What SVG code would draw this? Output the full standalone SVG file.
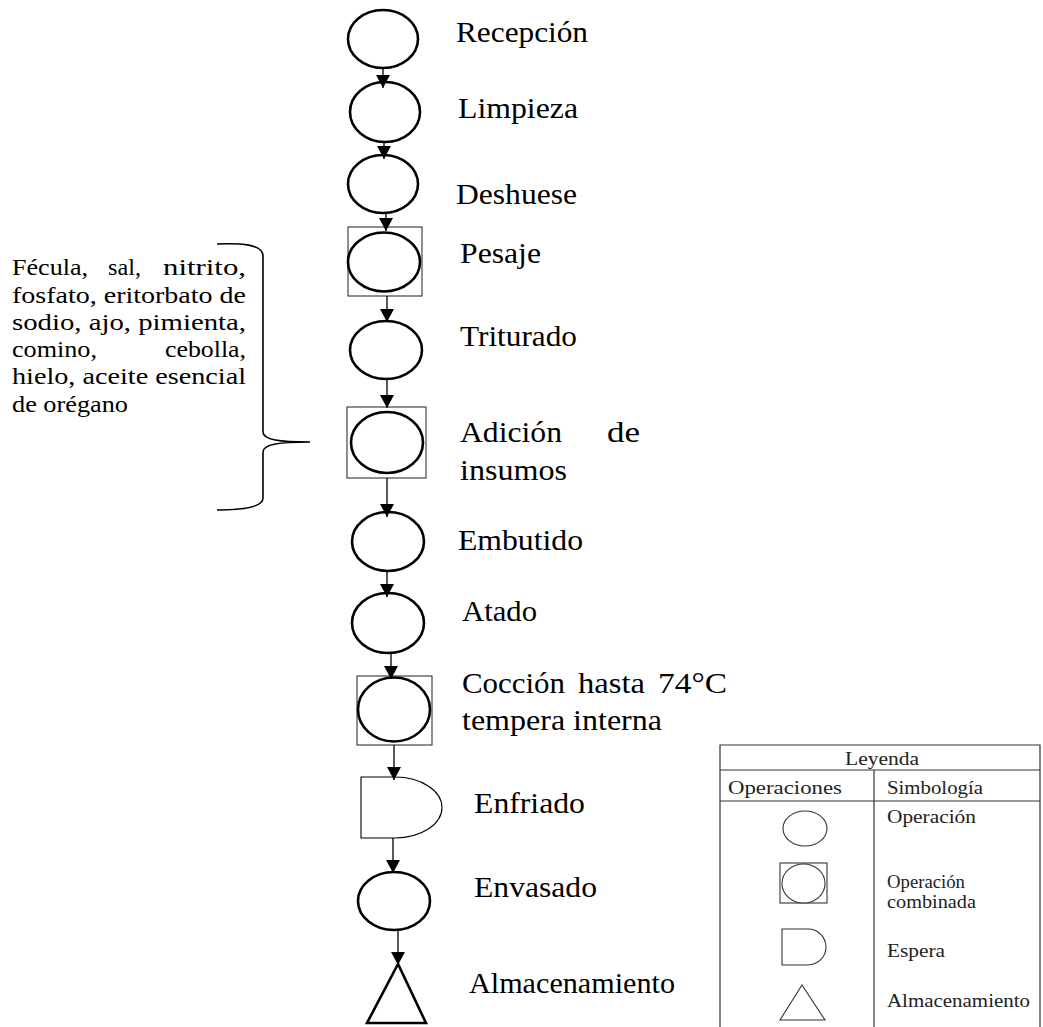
<svg xmlns="http://www.w3.org/2000/svg" width="1043" height="1027" viewBox="0 0 1043 1027">
<style>
  .op{fill:#fff;stroke:#000;stroke-width:2.6}
  .box{fill:#fff;stroke:#333;stroke-width:1.1}
  .thin{fill:#fff;stroke:#000;stroke-width:1.1}
  .lgs{fill:#fff;stroke:#333;stroke-width:1.1}
  .conn{stroke:#000;stroke-width:1.3;fill:none}
  .grid{stroke:#333;stroke-width:1.2;fill:none}
</style>
<defs>
  <marker id="ah" markerUnits="userSpaceOnUse" markerWidth="14" markerHeight="14" refX="13" refY="7" orient="auto">
    <path d="M0,0 L13,7 L0,14 z" fill="#000"/>
  </marker>
</defs>
<rect width="1043" height="1027" fill="#fff"/>

<g font-family="Liberation Serif, Times New Roman, serif" font-size="30" fill="#000">
<g id="recepcion">
  <ellipse class="op" cx="383" cy="39" rx="35" ry="29"/>
  <text x="456" y="42" textLength="132" lengthAdjust="spacingAndGlyphs">Recepción</text>
</g>
<g id="limpieza">
  <ellipse class="op" cx="385" cy="112" rx="35" ry="30"/>
  <text x="458" y="118" textLength="120" lengthAdjust="spacingAndGlyphs">Limpieza</text>
</g>
<g id="deshuese">
  <ellipse class="op" cx="383" cy="184" rx="35" ry="29"/>
  <text x="456" y="204" textLength="121" lengthAdjust="spacingAndGlyphs">Deshuese</text>
</g>
<g id="pesaje">
  <rect class="box" x="348" y="227" width="74" height="69"/>
  <ellipse class="op" cx="384" cy="262" rx="36" ry="29.5"/>
  <text x="460" y="263" textLength="81" lengthAdjust="spacingAndGlyphs">Pesaje</text>
</g>
<g id="triturado">
  <ellipse class="op" cx="386" cy="350" rx="36" ry="29"/>
  <text x="460" y="346" textLength="117" lengthAdjust="spacingAndGlyphs">Triturado</text>
</g>
<g id="adicion">
  <rect class="box" x="347" y="407" width="79" height="71"/>
  <ellipse class="op" cx="387" cy="442.5" rx="36" ry="30.5"/>
  <text x="460" y="442" textLength="102" lengthAdjust="spacingAndGlyphs">Adición</text>
  <text x="607" y="442" textLength="33" lengthAdjust="spacingAndGlyphs">de</text>
  <text x="460" y="480" textLength="107" lengthAdjust="spacingAndGlyphs">insumos</text>
</g>
<g id="embutido">
  <ellipse class="op" cx="388" cy="541.5" rx="36" ry="29.5"/>
  <text x="458" y="550" textLength="125" lengthAdjust="spacingAndGlyphs">Embutido</text>
</g>
<g id="atado">
  <ellipse class="op" cx="388" cy="623" rx="36" ry="30"/>
  <text x="462" y="621" textLength="75" lengthAdjust="spacingAndGlyphs">Atado</text>
</g>
<g id="coccion">
  <rect class="box" x="357" y="676" width="75" height="69"/>
  <ellipse class="op" cx="394" cy="709.5" rx="36" ry="32"/>
  <text x="462" y="693" textLength="103" lengthAdjust="spacingAndGlyphs">Cocción</text>
  <text x="578" y="693" textLength="67" lengthAdjust="spacingAndGlyphs">hasta</text>
  <text x="658" y="693" textLength="69" lengthAdjust="spacingAndGlyphs">74°C</text>
  <text x="462" y="730" textLength="200" lengthAdjust="spacingAndGlyphs">tempera interna</text>
</g>
<g id="enfriado">
  <path class="thin" d="M361,777 H395 A47,30.5 0 0 1 395,838 H361 Z"/>
  <text x="474" y="813" textLength="111" lengthAdjust="spacingAndGlyphs">Enfriado</text>
</g>
<g id="envasado">
  <ellipse class="op" cx="394" cy="901" rx="36" ry="29"/>
  <text x="474" y="897" textLength="123" lengthAdjust="spacingAndGlyphs">Envasado</text>
</g>
<g id="almacenamiento">
  <polygon class="op" points="398,964 367,1023 426,1023"/>
  <text x="469" y="993" textLength="206" lengthAdjust="spacingAndGlyphs">Almacenamiento</text>
</g>

<g id="insumos-nota" font-size="24">
  <text x="12" y="275" textLength="76" lengthAdjust="spacingAndGlyphs">Fécula,</text>
  <text x="108" y="275" textLength="33" lengthAdjust="spacingAndGlyphs">sal,</text>
  <text x="163" y="275" textLength="83" lengthAdjust="spacingAndGlyphs">nitrito,</text>
  <text x="12" y="303" textLength="234" lengthAdjust="spacingAndGlyphs">fosfato, eritorbato de</text>
  <text x="12" y="330" textLength="234" lengthAdjust="spacingAndGlyphs">sodio, ajo, pimienta,</text>
  <text x="12" y="357" textLength="85" lengthAdjust="spacingAndGlyphs">comino,</text>
  <text x="165" y="357" textLength="81" lengthAdjust="spacingAndGlyphs">cebolla,</text>
  <text x="12" y="384" textLength="234" lengthAdjust="spacingAndGlyphs">hielo, aceite esencial</text>
  <text x="12" y="412" textLength="116" lengthAdjust="spacingAndGlyphs">de orégano</text>
  <path d="M217,244 C240,243 263,244 263,256 V432 C263,440 280,442 310,442 C280,442 263,444 263,452 V498 C263,508 240,510 217,510" fill="none" stroke="#000" stroke-width="1.6"/>
</g>
</g>

<g id="connectors">
  <line class="conn" x1="383" y1="68" x2="383" y2="88" marker-end="url(#ah)"/>
  <line class="conn" x1="384" y1="142" x2="384" y2="159" marker-end="url(#ah)"/>
  <line class="conn" x1="386" y1="213" x2="386" y2="231" marker-end="url(#ah)"/>
  <line class="conn" x1="387" y1="296" x2="387" y2="322" marker-end="url(#ah)"/>
  <line class="conn" x1="387" y1="379" x2="387" y2="408" marker-end="url(#ah)"/>
  <line class="conn" x1="387" y1="478" x2="387" y2="517" marker-end="url(#ah)"/>
  <line class="conn" x1="387" y1="571" x2="387" y2="597" marker-end="url(#ah)"/>
  <line class="conn" x1="391" y1="653" x2="391" y2="679" marker-end="url(#ah)"/>
  <line class="conn" x1="394" y1="745" x2="394" y2="780" marker-end="url(#ah)"/>
  <line class="conn" x1="393" y1="838" x2="393" y2="873" marker-end="url(#ah)"/>
  <line class="conn" x1="398" y1="930" x2="398" y2="965" marker-end="url(#ah)"/>
</g>

<g id="leyenda" font-family="Liberation Serif, Times New Roman, serif" font-size="19" fill="#222">
  <path class="grid" d="M720,1027 V745 H1040 V1027 M720,770 H1040 M720,801 H1040 M874,770 V1027"/>
  <text x="845" y="765" textLength="74" lengthAdjust="spacingAndGlyphs">Leyenda</text>
  <text x="728" y="794" textLength="114" lengthAdjust="spacingAndGlyphs">Operaciones</text>
  <text x="887" y="794" textLength="96" lengthAdjust="spacingAndGlyphs">Simbología</text>
  <ellipse class="lgs" cx="805" cy="828.5" rx="22" ry="17.5"/>
  <text x="887" y="823" textLength="89" lengthAdjust="spacingAndGlyphs">Operación</text>
  <rect class="lgs" x="780" y="863" width="47" height="40"/>
  <ellipse class="lgs" cx="803.5" cy="883.5" rx="21.5" ry="19.5"/>
  <text x="887" y="888" textLength="78" lengthAdjust="spacingAndGlyphs">Operación</text>
  <text x="887" y="908" textLength="89" lengthAdjust="spacingAndGlyphs">combinada</text>
  <path class="lgs" d="M782,929 H808 A18,18 0 0 1 808,965 H782 Z"/>
  <text x="887" y="957" textLength="58" lengthAdjust="spacingAndGlyphs">Espera</text>
  <polygon class="lgs" points="802,985 780,1020 825,1020"/>
  <text x="887" y="1007" textLength="143" lengthAdjust="spacingAndGlyphs">Almacenamiento</text>
</g>
</svg>
